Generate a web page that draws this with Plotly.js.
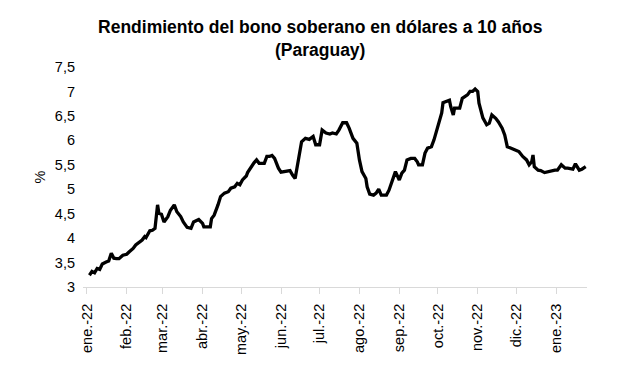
<!DOCTYPE html>
<html>
<head>
<meta charset="utf-8">
<script src="https://cdn.plot.ly/plotly-3.0.1.min.js"></script>
<style>html,body{margin:0;padding:0;background:#fff}#chart{width:617px;height:370px}</style>
</head>
<body>
<div id="chart"></div>
<script>
var dates = [
"2022-01-03","2022-01-05","2022-01-07","2022-01-09","2022-01-11","2022-01-13","2022-01-16","2022-01-18","2022-01-20","2022-01-22",
"2022-01-24","2022-01-26","2022-01-29","2022-02-01","2022-02-03","2022-02-06","2022-02-08","2022-02-11","2022-02-13","2022-02-15",
"2022-02-16","2022-02-19","2022-02-21","2022-02-23","2022-02-25","2022-02-26","2022-02-28","2022-03-02","2022-03-05","2022-03-07",
"2022-03-10","2022-03-12","2022-03-15","2022-03-17","2022-03-20","2022-03-23","2022-03-25","2022-03-29","2022-04-01","2022-04-02",
"2022-04-05","2022-04-07","2022-04-08","2022-04-10","2022-04-13","2022-04-15","2022-04-18","2022-04-21","2022-04-23","2022-04-26",
"2022-04-28","2022-04-30","2022-05-02","2022-05-05","2022-05-06","2022-05-08","2022-05-11","2022-05-13","2022-05-15","2022-05-19",
"2022-05-21","2022-05-23","2022-05-25","2022-05-27","2022-05-30","2022-06-01","2022-06-04","2022-06-06","2022-06-08","2022-06-10",
"2022-06-12","2022-06-15","2022-06-17","2022-06-20","2022-06-23","2022-06-26","2022-06-28","2022-07-01","2022-07-03","2022-07-06",
"2022-07-09","2022-07-11","2022-07-14","2022-07-16","2022-07-19","2022-07-22","2022-07-24","2022-07-27","2022-07-30","2022-08-01",
"2022-08-03","2022-08-06","2022-08-07","2022-08-09","2022-08-12","2022-08-14","2022-08-16","2022-08-18","2022-08-22","2022-08-24",
"2022-08-27","2022-08-29","2022-09-01","2022-09-03","2022-09-05","2022-09-07","2022-09-10","2022-09-13","2022-09-15","2022-09-16",
"2022-09-19","2022-09-21","2022-09-23","2022-09-26","2022-09-28","2022-09-30","2022-10-02","2022-10-04","2022-10-05","2022-10-07",
"2022-10-10","2022-10-11","2022-10-13","2022-10-14","2022-10-18","2022-10-20","2022-10-24","2022-10-26","2022-10-28","2022-10-30",
"2022-11-01","2022-11-02","2022-11-05","2022-11-08","2022-11-10","2022-11-12","2022-11-15","2022-11-17","2022-11-20","2022-11-22",
"2022-11-24","2022-11-27","2022-12-01","2022-12-03","2022-12-06","2022-12-09","2022-12-11","2022-12-13","2022-12-14","2022-12-15",
"2022-12-18","2022-12-20","2022-12-23","2022-12-26","2022-12-28","2022-12-31","2023-01-02","2023-01-05","2023-01-08","2023-01-10",
"2023-01-14","2023-01-16","2023-01-19","2023-01-21","2023-01-24"
];
var yields = [
3.24,3.32,3.29,3.38,3.36,3.47,3.51,3.53,3.69,3.59,
3.58,3.58,3.65,3.67,3.72,3.79,3.86,3.92,3.96,4.03,
4.01,4.15,4.16,4.20,4.68,4.51,4.49,4.33,4.44,4.57,
4.68,4.54,4.44,4.33,4.22,4.20,4.33,4.38,4.30,4.23,
4.23,4.23,4.40,4.47,4.68,4.85,4.92,4.95,5.02,5.05,
5.12,5.09,5.19,5.27,5.34,5.43,5.54,5.60,5.53,5.53,
5.67,5.67,5.69,5.63,5.43,5.35,5.36,5.38,5.38,5.29,
5.22,5.67,5.97,6.04,6.02,6.08,5.91,5.91,6.21,6.15,
6.13,6.15,6.13,6.21,6.36,6.36,6.25,6.04,5.94,5.60,
5.36,5.22,5.05,4.90,4.88,4.92,5.00,4.88,4.88,4.98,
5.19,5.36,5.19,5.33,5.39,5.60,5.63,5.63,5.56,5.50,
5.50,5.74,5.84,5.87,6.01,6.21,6.35,6.56,6.77,6.79,
6.82,6.69,6.52,6.66,6.66,6.86,6.93,7.00,7.00,7.05,
7.00,6.76,6.46,6.32,6.35,6.52,6.45,6.38,6.25,6.11,
5.87,5.84,5.80,5.77,5.67,5.60,5.50,5.56,5.70,5.46,
5.39,5.38,5.34,5.36,5.38,5.39,5.39,5.50,5.43,5.43,
5.41,5.52,5.39,5.41,5.46
];
var tickDates = ["2022-01-01","2022-02-01","2022-03-01","2022-04-01","2022-05-01","2022-06-01","2022-07-01","2022-08-01","2022-09-01","2022-10-01","2022-11-01","2022-12-01","2023-01-01"];
var tickLabels = ["ene.-22","feb.-22","mar.-22","abr.-22","may.-22","jun.-22","jul.-22","ago.-22","sep.-22","oct.-22","nov.-22","dic.-22","ene.-23"];

var trace = {
  x: dates, y: yields, type: 'scatter', mode: 'lines',
  line: {color: '#000000', width: 3.3}, hoverinfo: 'skip'
};
var layout = {
  width: 617, height: 370,
  margin: {l: 83, r: 30, t: 67, b: 83},
  paper_bgcolor: '#ffffff', plot_bgcolor: '#ffffff',
  separators: ',.',
  showlegend: false,
  font: {family: 'Liberation Sans, Arial, sans-serif', color: '#000000'},
  title: {
    text: '<b>Rendimiento del bono soberano en dólares a 10 años<br>(Paraguay)</b>',
    font: {size: 17.5, color: '#000000', family: 'Liberation Sans, Arial, sans-serif'},
    x: 0.519, xanchor: 'center', y: 0.91, yanchor: 'top'
  },
  xaxis: {
    type: 'date',
    range: ['2021-12-29', '2023-01-25'],
    tickmode: 'array', tickvals: tickDates, ticktext: tickLabels,
    tickangle: -90,
    tickfont: {size: 14.5, color: '#000000'},
    ticklabelstandoff: 4,
    showgrid: false, zeroline: false,
    showline: true, linecolor: '#d9d9d9', linewidth: 1,
    ticks: 'outside', ticklen: 6, tickcolor: '#d9d9d9'
  },
  yaxis: {
    range: [3, 7.5], dtick: 0.5, tick0: 3,
    tickfont: {size: 14.5, color: '#000000'},
    ticklabelstandoff: 7,
    showgrid: false, zeroline: false, showline: false,
    ticks: '',
    title: {text: '%', font: {size: 14.5, color: '#000000'}, standoff: 5}
  }
};
Plotly.newPlot('chart', [trace], layout, {displayModeBar: false, staticPlot: true});
</script>
</body>
</html>
